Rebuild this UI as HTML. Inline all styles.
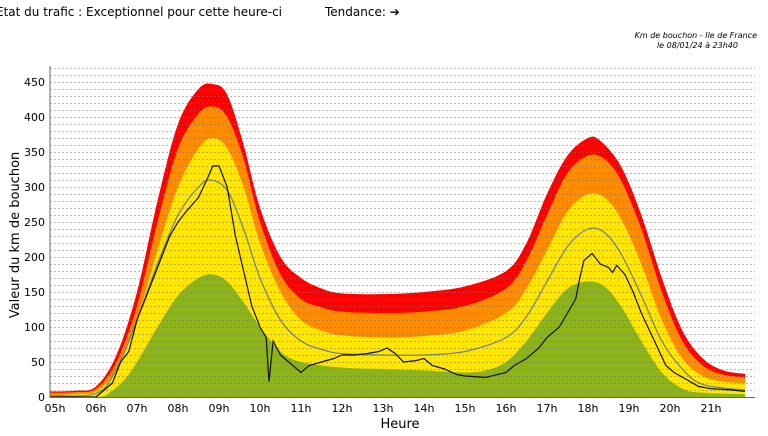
<!DOCTYPE html>
<html><head><meta charset="utf-8"><style>
body{margin:0;background:#fff;width:768px;height:432px;overflow:hidden;font-family:"DejaVu Sans","Liberation Sans",sans-serif;}
</style></head><body>
<svg id="s" width="768" height="432" xmlns="http://www.w3.org/2000/svg">
<text x="-4" y="16" font-size="12" fill="#000">Etat du trafic : Exceptionnel pour cette heure-ci</text>
<text x="325" y="16" font-size="12" fill="#000">Tendance: ➔</text>
<text x="757" y="38" font-size="8" font-style="italic" text-anchor="end" fill="#000">Km de bouchon - Ile de France</text>
<text x="738" y="48" font-size="8" font-style="italic" text-anchor="end" fill="#000">le 08/01/24 à 23h40</text>
<g id="fills"></g>
<g id="grid"></g>
<g id="lines"></g>
<line x1="50" y1="66" x2="50" y2="398" stroke="#666" stroke-width="1"/>
<line x1="50" y1="397.5" x2="755" y2="397.5" stroke="#666" stroke-width="1"/>
<g id="labels" font-size="11" fill="#000"></g>
<text x="400" y="428" font-size="13" text-anchor="middle">Heure</text>
<text transform="translate(19,235) rotate(-90)" font-size="13" text-anchor="middle">Valeur du  km de bouchon</text>
</svg>
<script>
var NS="http://www.w3.org/2000/svg";
function X(h){return 55+(h-5)*41;}
function Y(v){return 397-0.7*v;}
function el(t,a,p){var e=document.createElementNS(NS,t);for(var k in a)e.setAttribute(k,a[k]);document.getElementById(p).appendChild(e);return e;}
function smooth(pts){var d="";for(var i=0;i<pts.length;i++){var p=pts[i];if(i==0){d+="M"+X(p[0])+","+Y(p[1]);continue;}
var p0=pts[Math.max(0,i-2)],p1=pts[i-1],p2=pts[i],p3=pts[Math.min(pts.length-1,i+1)];
var c1x=X(p1[0])+(X(p2[0])-X(p0[0]))/6,c1y=Y(p1[1])+(Y(p2[1])-Y(p0[1]))/6;
var c2x=X(p2[0])-(X(p3[0])-X(p1[0]))/6,c2y=Y(p2[1])-(Y(p3[1])-Y(p1[1]))/6;
d+=" C"+c1x+","+c1y+" "+c2x+","+c2y+" "+X(p2[0])+","+Y(p2[1]);}return d;}
var red=[[4.88,8],[5.5,9],[6,15],[6.5,60],[7,150],[7.5,280],[8,390],[8.5,440],[8.85,447],[9.2,432],[9.6,360],[10,270],[10.5,200],[11,170],[11.5,155],[12,148],[13,147],[14,150],[15,158],[16,180],[16.5,220],[17,290],[17.5,345],[18,370],[18.3,366],[18.8,330],[19.3,260],[19.8,170],[20.3,95],[20.8,55],[21.3,38],[21.83,33]];
var ora=[[4.88,6],[5.5,7],[6,12],[6.5,50],[7,130],[7.5,250],[8,355],[8.5,405],[8.85,415],[9.2,400],[9.6,340],[10,250],[10.5,175],[11,140],[11.5,128],[12,122],[13,120],[14,122],[15,130],[16,155],[16.5,195],[17,260],[17.5,320],[18,345],[18.4,340],[18.8,310],[19.3,240],[19.8,150],[20.3,80],[20.8,45],[21.3,32],[21.83,28]];
var yel=[[4.88,3],[5.5,4],[6,8],[6.5,40],[7,110],[7.5,210],[8,300],[8.5,355],[8.85,370],[9.2,355],[9.6,300],[10,220],[10.5,150],[11,110],[11.5,95],[12,88],[13,85],[14,87],[15,95],[16,120],[16.5,155],[17,210],[17.5,265],[18,290],[18.4,285],[18.8,255],[19.3,190],[19.8,110],[20.3,55],[20.8,30],[21.3,22],[21.83,20]];
var gre=[[4.88,0],[6,0],[6.3,5],[6.7,25],[7,50],[7.5,100],[8,145],[8.5,170],[8.85,175],[9.2,165],[9.6,135],[10,100],[10.5,65],[11,50],[12,42],[13,40],[14,38],[15,35],[15.5,38],[16,50],[16.5,80],[17,120],[17.5,155],[18,165],[18.4,158],[18.8,130],[19.3,80],[19.8,35],[20.3,12],[20.8,6],[21.83,4]];
var gry=[[4.88,2],[6,5],[6.5,40],[7,110],[7.5,190],[8,260],[8.5,300],[8.8,310],[9.2,295],[9.6,240],[10,170],[10.5,110],[11,80],[11.5,68],[12,62],[13,60],[14,60],[15,65],[16,85],[16.5,115],[17,165],[17.5,215],[18,240],[18.4,235],[18.8,205],[19.3,145],[19.8,80],[20.3,40],[20.8,18],[21.83,10]];
var blk=[[4.88,0],[6,0],[6.2,10],[6.4,20],[6.6,50],[6.8,65],[7,110],[7.2,140],[7.5,185],[7.8,230],[8,250],[8.2,265],[8.5,285],[8.7,310],[8.85,330],[9,330],[9.2,300],[9.4,230],[9.6,180],[9.8,130],[10,100],[10.15,85],[10.22,22],[10.32,80],[10.5,60],[10.8,45],[11,35],[11.2,45],[11.5,50],[11.8,55],[12,60],[12.3,60],[12.6,62],[12.9,65],[13.1,70],[13.3,62],[13.5,50],[13.8,52],[14,55],[14.2,45],[14.5,40],[14.8,32],[15,30],[15.5,28],[16,35],[16.2,45],[16.5,55],[16.8,70],[17,85],[17.3,100],[17.5,120],[17.7,140],[17.8,170],[17.9,195],[18.1,205],[18.3,190],[18.5,185],[18.6,178],[18.7,188],[18.9,175],[19.1,150],[19.3,120],[19.5,95],[19.7,70],[19.9,45],[20.1,35],[20.4,25],[20.7,15],[21,12],[21.5,10],[21.83,8]];
function area(pts,c){el("path",{d:smooth(pts)+" L"+X(21.83)+","+Y(0)+" L"+X(4.88)+","+Y(0)+" Z",fill:c},"fills");}
area(red,"#ff0000");area(ora,"#ff8c00");area(yel,"#ffe600");area(gre,"#8db31b");
for(var v=10;v<=470;v+=10){el("line",{x1:50,x2:755,y1:Y(v)+0.5,y2:Y(v)+0.5,stroke:"#777","stroke-width":0.6,"stroke-dasharray":"2,2"},"grid");}
el("path",{d:smooth(gry),fill:"none",stroke:"#6e7d8c","stroke-width":1.2},"lines");
el("polyline",{points:blk.map(function(p){return X(p[0])+","+Y(p[1]);}).join(" "),fill:"none",stroke:"#111","stroke-width":1.2},"lines");
for(var v=0;v<=450;v+=50){var t=el("text",{x:45,y:Y(v)+4,"text-anchor":"end"},"labels");t.textContent=v;}
for(var h=5;h<=21;h++){var t=el("text",{x:X(h),y:412,"text-anchor":"middle"},"labels");t.textContent=(h<10?"0":"")+h+"h";}
</script>
</body></html>
